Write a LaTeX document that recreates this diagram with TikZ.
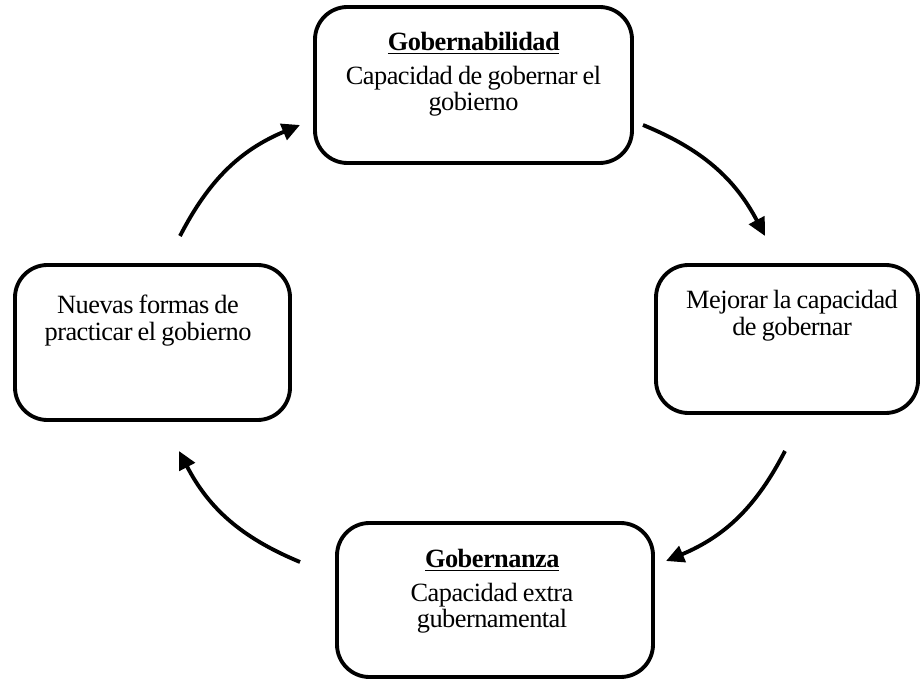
\documentclass[tikz,border=0pt]{standalone}
\usepackage{fontspec}
\setmainfont{Liberation Serif}[LetterSpace=-2,WordSpace=0.85]
\usetikzlibrary{positioning,arrows.meta}
\tikzset{
  caja/.style={draw, line width=2.2pt, rounded corners=0.65cm, inner sep=0pt},
  texto/.style={align=center, inner sep=0pt, font=\fontsize{15}{15}\selectfont},
  flecha/.style={line width=2.2pt, -{Triangle[length=0.36cm,width=0.34cm]}, bend left=20}
}
\begin{document}
\begin{tikzpicture}
\useasboundingbox (0,0) rectangle (18.4,-13.58);
%-------->boxes<--------------
\node[caja, minimum width=6.34cm, minimum height=3.12cm] (gob) at (9.47,-1.70) {}; % top
\node[caja, minimum width=5.24cm, minimum height=2.96cm] (mej) at (15.74,-6.78) {}; % right
\node[caja, minimum width=6.32cm, minimum height=3.08cm] (gza) at (9.90,-12.00) {}; % bottom
\node[caja, minimum width=5.50cm, minimum height=3.10cm] (nue) at (3.05,-6.85) {}; % left
%-------->texts<--------------
\node[texto, below=0.54cm of gob.north] (gobtxt) {\underline{\textbf{Gobernabilidad}}\\[4pt]Capacidad de gobernar el\\gobierno};
\node[texto, below=0.54cm of mej.north, xshift=0.1cm] (mejtxt) {Mejorar la capacidad\\de gobernar};
\node[texto, below=0.56cm of gza.north, xshift=-0.06cm] (gzatxt) {\underline{\textbf{Gobernanza}}\\[4pt]Capacidad extra\\gubernamental};
\node[texto, below=0.64cm of nue.north, xshift=-0.09cm] (nuetxt) {Nuevas formas de\\practicar el gobierno};
%-------->arrow ends<--------------
\coordinate (a1) at (12.86,-2.50);
\coordinate (b1) at (15.30,-4.72);
\coordinate (a2) at (15.70,-9.02);
\coordinate (b2) at (13.32,-11.22);
\coordinate (a3) at (6.00,-11.24);
\coordinate (b3) at (3.58,-9.02);
\coordinate (a4) at (3.60,-4.72);
\coordinate (b4) at (6.00,-2.50);
%-------->arrows<--------------
\draw[flecha] (a1) to (b1);
\draw[flecha] (a2) to (b2);
\draw[flecha] (a3) to (b3);
\draw[flecha] (a4) to (b4);
\end{tikzpicture}
\end{document}
